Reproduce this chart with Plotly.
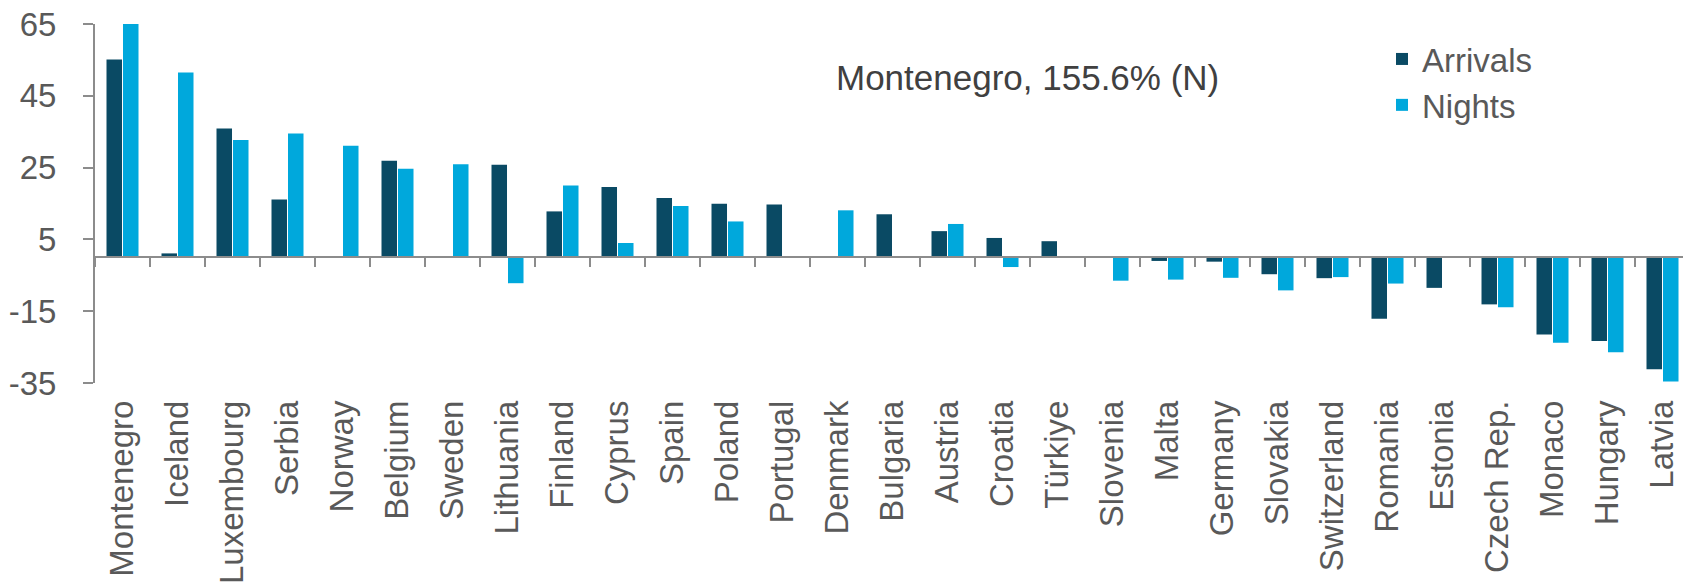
import plotly.graph_objects as go

countries = ["Montenegro", "Iceland", "Luxembourg", "Serbia", "Norway", "Belgium", "Sweden",
             "Lithuania", "Finland", "Cyprus", "Spain", "Poland", "Portugal", "Denmark",
             "Bulgaria", "Austria", "Croatia", "Türkiye", "Slovenia", "Malta", "Germany",
             "Slovakia", "Switzerland", "Romania", "Estonia", "Czech Rep.", "Monaco",
             "Hungary", "Latvia"]
arrivals = [55.1, 1.1, 35.9, 16.1, None, 26.9, None,
            25.8, 12.8, 19.6, 16.5, 14.9, 14.7, None,
            12.0, 7.3, 5.4, 4.5, None, -1.0, -1.2,
            -4.7, -5.8, -17.1, -8.5, -13.1, -21.5,
            -23.3, -31.2]
nights = [155.6, 51.5, 32.7, 34.5, 31.1, 24.7, 25.9,
          -7.2, 20.0, 4.0, 14.3, 10.0, None, 13.1,
          None, 9.3, -2.7, None, -6.5, -6.2, -5.7,
          -9.2, -5.5, -7.3, None, -13.9, -23.8,
          -26.4, -34.6]
y_ticks = [-35, -15, 5, 25, 45, 65]
annotation_text = "Montenegro, 155.6% (N)"

C_ARR = "#0A4A64"
C_NIG = "#00A8DC"
GREY = "#595959"
AXIS = "#8C8C8C"
FONT = "Liberation Sans, Arial, sans-serif"
FS = 33

W, H = 1683, 585
ml, mr, mt = 95, 0, 24
plot_h = 358.7
mb = H - mt - plot_h
plot_w = W - ml - mr
cat_px = 55.0
xmax = -0.5 + plot_w / cat_px

fig = go.Figure()
fig.add_trace(go.Bar(x=countries, y=arrivals, name="Arrivals", marker_color=C_ARR,
                     marker_line_width=0, legendgroup="a", xaxis="x", yaxis="y"))
fig.add_trace(go.Bar(x=countries, y=nights, name="Nights", marker_color=C_NIG,
                     marker_line_width=0, legendgroup="n", xaxis="x", yaxis="y"))
# invisible trace carrying the bottom label axis
fig.add_trace(go.Scatter(x=countries, y=[None] * len(countries), xaxis="x2", yaxis="y",
                         showlegend=False, hoverinfo="skip", mode="markers"))

zero_pos = (0 - y_ticks[0]) / (y_ticks[-1] - y_ticks[0])

fig.update_layout(
    width=W, height=H,
    margin=dict(l=ml, r=mr, t=mt, b=mb, pad=0, autoexpand=False),
    paper_bgcolor="white", plot_bgcolor="white",
    barmode="group", bargap=0.4, bargroupgap=0.06,
    font=dict(family=FONT, size=FS, color=GREY),
    showlegend=True,
    legend=dict(x=(1382 - ml) / plot_w, y=1 - (31 - mt) / plot_h, xanchor="left", yanchor="top",
                bgcolor="rgba(0,0,0,0)", font=dict(size=FS, color=GREY),
                tracegroupgap=0, itemwidth=30),
    xaxis=dict(type="category", categoryorder="array", categoryarray=countries,
               range=[-0.5, xmax], anchor="free", position=zero_pos, automargin=False,
               showline=True, linecolor=AXIS, linewidth=2,
               ticks="outside", tickson="boundaries", ticklen=9, tickwidth=2, tickcolor=AXIS,
               showticklabels=False, showgrid=False, zeroline=False, fixedrange=True),
    xaxis2=dict(type="category", categoryorder="array", categoryarray=countries,
                range=[-0.5, xmax], overlaying="x", anchor="y", side="bottom", automargin=False,
                showline=False, ticks="", showticklabels=True, tickangle=-90,
                ticklabelstandoff=10, ticklabeloverflow="allow",
                tickfont=dict(size=FS, color=GREY, family=FONT),
                showgrid=False, zeroline=False),
    yaxis=dict(range=[y_ticks[0], y_ticks[-1]], tickvals=y_ticks, ticktext=[str(v) for v in y_ticks],
               automargin=False,
               showline=True, linecolor=AXIS, linewidth=2,
               ticks="outside", ticklen=10, tickwidth=2, tickcolor=AXIS,
               ticklabelstandoff=20, ticklabeloverflow="allow",
               tickfont=dict(size=FS, color=GREY, family=FONT),
               showgrid=False, zeroline=False),
    annotations=[dict(text=annotation_text, xref="paper", yref="paper",
                      x=(1027.5 - ml) / plot_w, y=1 - (77 - mt) / plot_h,
                      xanchor="center", yanchor="middle", showarrow=False,
                      font=dict(size=35, color="#404040", family=FONT))],
)

fig.write_html("out.html", config={"displayModeBar": False},
               post_script="document.body.style.margin='0';document.body.style.overflow='hidden';")
